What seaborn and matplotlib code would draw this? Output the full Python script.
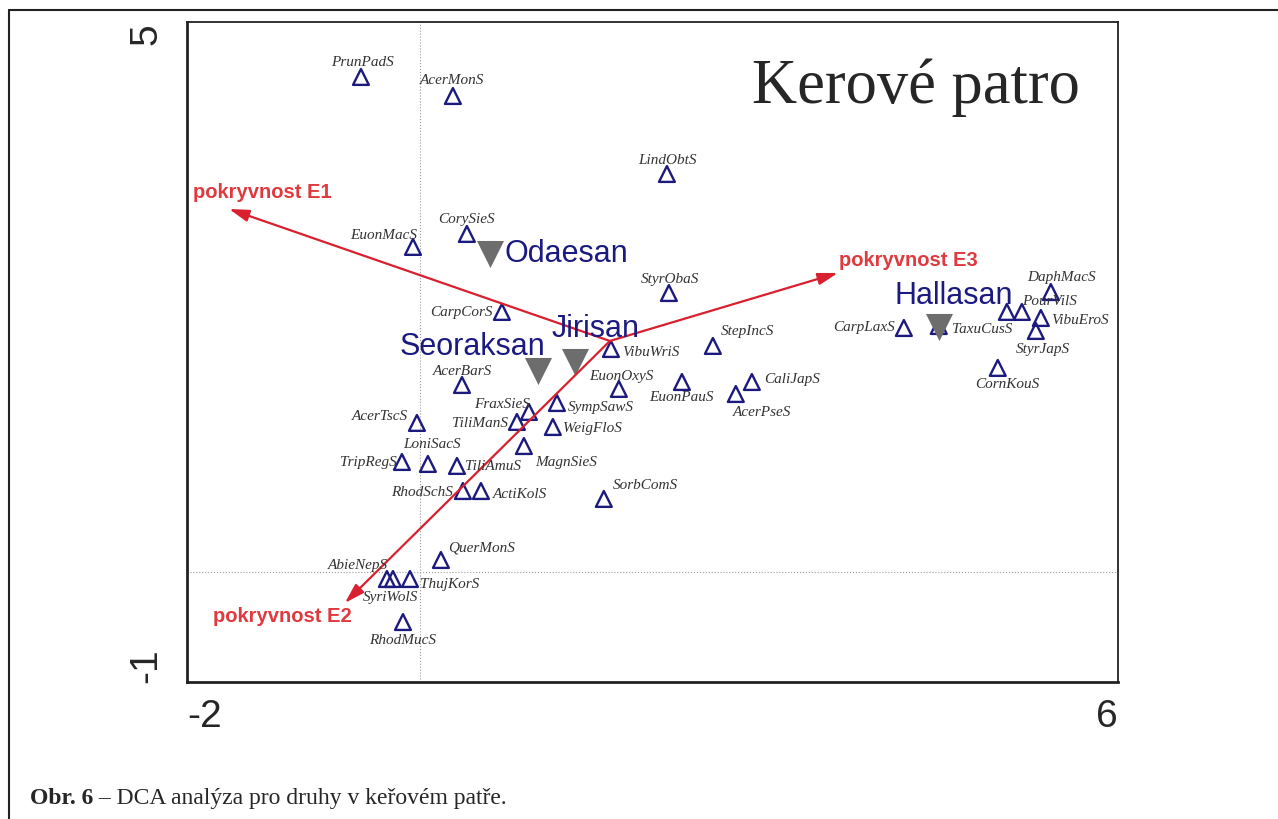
import numpy as np
import pandas as pd
import matplotlib
matplotlib.use('Agg')
import matplotlib.pyplot as plt
import seaborn as sns
from matplotlib.lines import Line2D

# druhy (species scores, DCA osa 1 / osa 2)
species = ['PrunPadS', 'AcerMonS', 'LindObtS', 'EuonMacS', 'CorySieS', 'StyrObaS',
           'CarpCorS', 'VibuWriS', 'StepIncS', 'AcerBarS', 'EuonOxyS', 'EuonPauS',
           'CaliJapS', 'AcerPseS', 'FraxSieS', 'SympSawS', 'AcerTscS', 'TiliManS',
           'WeigFloS', 'MagnSieS', 'LoniSacS', 'TripRegS', 'TiliAmuS', 'RhodSchS',
           'ActiKolS', 'SorbComS', 'QuerMonS', 'AbieNepS', 'SyriWolS', 'ThujKorS',
           'RhodMucS', 'CarpLaxS', 'TaxuCusS', 'DaphMacS', 'PourVilS', '',
           'VibuEroS', 'StyrJapS', 'CornKouS']
sp_x = [-0.505, 0.285, 2.124, -0.058, 0.405, 2.141,
        0.706, 1.643, 2.519, 0.363, 1.711, 2.253,
        2.854, 2.716, 0.938, 1.179, -0.024, 0.835,
        1.144, 0.895, 0.070, -0.153, 0.320, 0.371,
        0.526, 1.582, 0.182, -0.282, -0.230, -0.084,
        -0.144, 4.160, 4.460, 5.423, 5.174, 5.045,
        5.337, 5.294, 4.967]
sp_y = [4.500, 4.327, 3.618, 2.955, 3.073, 2.536,
        2.364, 2.027, 2.055, 1.700, 1.664, 1.727,
        1.727, 1.618, 1.455, 1.536, 1.355, 1.364,
        1.318, 1.145, 0.982, 1.000, 0.964, 0.736,
        0.736, 0.664, 0.109, -0.064, -0.064, -0.064,
        -0.455, 2.218, 2.236, 2.545, 2.364, 2.364,
        2.309, 2.191, 1.855]

# lokality
sites = ['Odaesan', 'Jirisan', 'Seoraksan', 'Hallasan']
site_x = [0.603, 1.333, 1.015, 4.460]
site_y = [2.890, 1.909, 1.827, 2.227]

# environmentalni promenne (sipky)
env = ['pokryvnost E1', 'pokryvnost E2', 'pokryvnost E3']
env_x = [-1.639, -0.643, 3.593]
env_y = [3.300, -0.282, 2.718]
arrow_origin = (1.634, 2.100)

# umisteni popisku: posun v pixelech (dx, dy dolu), zarovnani
sp_lab = {
    'PrunPadS': (1, -15, 'center'), 'AcerMonS': (-1, -16, 'center'),
    'LindObtS': (1, -14, 'center'), 'EuonMacS': (4, -12, 'right'),
    'CorySieS': (0, -15, 'center'), 'StyrObaS': (1, -15, 'center'),
    'CarpCorS': (-9, 0, 'right'), 'VibuWriS': (11, 3, 'left'),
    'StepIncS': (8, -15, 'left'), 'AcerBarS': (0, -14, 'center'),
    'EuonOxyS': (3, -13, 'center'), 'EuonPauS': (0, 15, 'center'),
    'CaliJapS': (12, -3, 'left'), 'AcerPseS': (-3, 18, 'left'),
    'FraxSieS': (1, -8, 'right'), 'SympSawS': (11, 3, 'left'),
    'AcerTscS': (-9, -7, 'right'), 'TiliManS': (-9, 1, 'right'),
    'WeigFloS': (10, 1, 'left'), 'MagnSieS': (11, 15, 'left'),
    'LoniSacS': (4, -20, 'center'), 'TripRegS': (-5, 0, 'right'),
    'TiliAmuS': (8, 0, 'left'), 'RhodSchS': (-10, 0, 'right'),
    'ActiKolS': (12, 2, 'left'), 'SorbComS': (9, -14, 'left'),
    'QuerMonS': (7, -13, 'left'), 'AbieNepS': (1, -15, 'right'),
    'SyriWolS': (-2, 17, 'center'), 'ThujKorS': (10, 4, 'left'),
    'RhodMucS': (0, 17, 'center'), 'CarpLaxS': (-9, -1, 'right'),
    'TaxuCusS': (13, 2, 'left'), 'DaphMacS': (11, -16, 'center'),
    'PourVilS': (0, -11, 'left'), 'VibuEroS': (10, 2, 'left'),
    'StyrJapS': (7, 18, 'center'), 'CornKouS': (10, 16, 'center'),
}
site_lab = {'Odaesan': (15, -1), 'Jirisan': (-23, -34),
            'Seoraksan': (-138, -25), 'Hallasan': (-44, -32)}
env_lab = {'pokryvnost E1': (-36, -17), 'pokryvnost E2': (-132, 13),
           'pokryvnost E3': (1, -13)}

navy = '#1c1a7e'
red = '#d8202e'
px = 0.72  # 1 px v bodech pri dpi 100

sns.set_style('white')
plt.rcParams['font.family'] = ['Liberation Sans', 'DejaVu Sans']

fig = plt.figure(figsize=(12.78, 8.2), dpi=100)
ax = fig.add_axes([0.1463, 0.1671, 0.7285, 0.8049])

ax.axhline(0, ls=':', color='#9a9a9a', lw=0.8, zorder=1)
ax.axvline(0, ls=':', color='#9a9a9a', lw=0.8, zorder=1)

df = pd.DataFrame({'name': species, 'x': sp_x, 'y': sp_y})
sns.scatterplot(data=df, x='x', y='y', marker='^', s=130, color=navy,
                linewidth=1.7, legend=False, ax=ax, zorder=3)
pts = ax.collections[-1]
pts.set_facecolor('none')
pts.set_edgecolor(navy)

for name, x, y in zip(species, sp_x, sp_y):
    if not name:
        continue
    dx, dy, ha = sp_lab[name]
    ax.annotate(name, (x, y), xytext=(dx * px, -dy * px), textcoords='offset points',
                ha=ha, va='center', fontsize=11, style='italic', color='#333333',
                family='Liberation Serif', zorder=6)

sdf = pd.DataFrame({'site': sites, 'x': site_x, 'y': site_y})
sns.scatterplot(data=sdf, x='x', y='y', marker='v', s=380, color='#6d6d6d',
                linewidth=0, legend=False, ax=ax, zorder=4)
for name, x, y in zip(sites, site_x, site_y):
    dx, dy = site_lab[name]
    ax.annotate(name, (x, y), xytext=(dx * px, -dy * px), textcoords='offset points',
                ha='left', va='center', fontsize=22, color='#1a1a80', zorder=6)

for name, x, y in zip(env, env_x, env_y):
    ax.annotate('', xy=(x, y), xytext=arrow_origin,
                arrowprops=dict(arrowstyle='-|>,head_length=0.6,head_width=0.18',
                                color=red, lw=1.6, mutation_scale=20,
                                shrinkA=0, shrinkB=0), zorder=5)
    dx, dy = env_lab[name]
    ax.annotate(name, (x, y), xytext=(dx * px, -dy * px), textcoords='offset points',
                ha='left', va='center', fontsize=14.5, fontweight='bold',
                color='#e0393e', zorder=6)

ax.set_xlim(-2, 6)
ax.set_ylim(-1, 5)
ax.set_xlabel('')
ax.set_ylabel('')
ax.set_xticks([-2, 0, 2, 4, 6])
ax.set_xticklabels(['-2', '', '', '', '6'], fontsize=28)
ax.set_yticks([-1, 0, 1, 2, 3, 4, 5])
ax.set_yticklabels(['-1', '', '', '', '', '', '5'], fontsize=28, rotation=90)
ax.tick_params(axis='both', direction='inout', length=9, width=1.4, color='#222222')
ax.tick_params(axis='x', pad=7)
ax.tick_params(axis='y', pad=12)
xl = ax.get_xticklabels()
xl[0].set_ha('left')
xl[-1].set_ha('right')
yl = ax.get_yticklabels()
yl[0].set_va('bottom')
yl[-1].set_va('top')

for side in ['left', 'bottom']:
    ax.spines[side].set_linewidth(2.0)
    ax.spines[side].set_color('#222222')
for side in ['top', 'right']:
    ax.spines[side].set_linewidth(1.3)
    ax.spines[side].set_color('#222222')

fig.text(752 / 1278, 1 - 103 / 820, 'Kerové patro', family='Liberation Serif',
         fontsize=45, va='baseline', ha='left')

# ramecek obrazku
fig.add_artist(Line2D([9 / 1278, 1], [1 - 11 / 820, 1 - 11 / 820],
                      transform=fig.transFigure, color='#222222', lw=1.5))
fig.add_artist(Line2D([9 / 1278, 9 / 1278], [0, 1 - 11 / 820],
                      transform=fig.transFigure, color='#222222', lw=1.5))

# popisek obrazku
cap_y = 1 - 804 / 820
t1 = fig.text(30 / 1278, cap_y, 'Obr. 6', family='Liberation Serif', fontsize=17,
              fontweight='bold', va='baseline')
fig.canvas.draw()
bb = t1.get_window_extent()
fig.text(bb.x1 / 1278, cap_y, ' – DCA analýza pro druhy v keřovém patře.',
         family='Liberation Serif', fontsize=17, va='baseline')

fig.savefig('out.png', dpi=100)
